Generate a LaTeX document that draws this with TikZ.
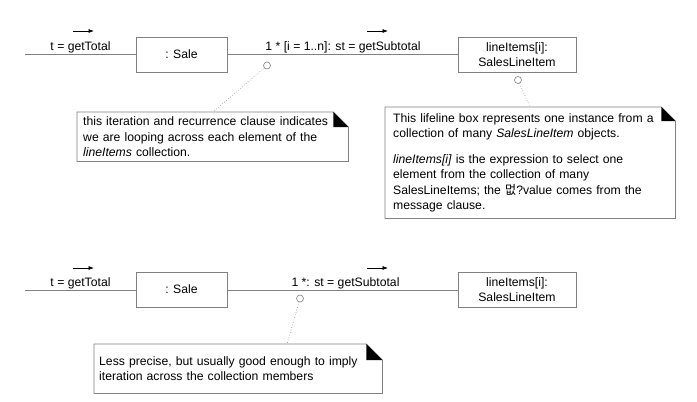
\documentclass[tikz,border=0pt]{standalone}
\usepackage{fontspec}
\setmainfont{Liberation Sans}
\newfontfamily\krfont{Noto Sans CJK KR}
\usetikzlibrary{arrows.meta,calc,backgrounds}
\definecolor{bd}{HTML}{808080}
\tikzset{
  lbl/.style={inner sep=0pt, font=\fontsize{12.2}{15}\selectfont},
  objbox/.style={draw=bd, line width=0.8pt, fill=white, inner sep=0pt, align=center,
    minimum height=35pt, font=\fontsize{12.2}{15}\selectfont},
  link/.style={draw=bd, line width=0.8pt},
  msgarrow/.style={line width=0.6pt, -{Latex[length=5.5pt,width=4pt]}},
  anchorcirc/.style={circle, draw=bd, line width=0.6pt, fill=white, minimum size=7pt, inner sep=0pt},
  anchorline/.style={draw=bd, line width=0.6pt, dotted},
  notebox/.style={inner ysep=0pt, align=left, font=\fontsize{12.2}{15.5}\selectfont, anchor=north west},
  noteedge/.style={draw=bd, line width=0.8pt, fill=white},
}
\newcommand{\notefold}[2]{%
  \begin{scope}[on background layer]
  \path[noteedge] (#1.north west) -- ([xshift=-#2]#1.north east) -- ([yshift=-#2]#1.north east)
    -- (#1.south east) -- (#1.south west) -- cycle;
  \fill[black] ([xshift=-#2]#1.north east) -- ([xshift=-#2,yshift=-#2]#1.north east)
    -- ([yshift=-#2]#1.north east) -- cycle;
  \end{scope}
}
\begin{document}
\begin{tikzpicture}[x=1pt,y=-1pt]
\useasboundingbox (0,0) rectangle (697,402);

% ---------- top diagram ----------
\coordinate (l1) at (25,54);
\node[objbox, minimum width=91pt] (sale1) at (181.5,54.5) {: Sale};
\node[objbox, minimum width=118pt] (li1) at (517,54.5) {lineItems[i]:\\SalesLineItem};
\draw[link] (l1) -- (l1 -| sale1.west);
\draw[link] (sale1.east |- l1) -- (li1.west |- l1);
\node[lbl] (m1) at (80.5,47) {t = getTotal};
\node[lbl] (m2) at (343,47) {1 * [i = 1..n]: st = getSubtotal};
\coordinate (a1s) at (73,31); \coordinate (a1e) at (94,31);
\coordinate (a2s) at (367,31); \coordinate (a2e) at (388,31);
\draw[msgarrow] (a1s) -- (a1e);
\draw[msgarrow] (a2s) -- (a2e);

% note 1
\node[notebox, text width=259pt, inner xsep=6pt, minimum height=49pt] (n1) at (77,112)
  {this iteration and recurrence clause indicates\\we are looping across each element of the\\\textit{lineItems} collection.};
\notefold{n1}{15pt}
\node[anchorcirc] (c1) at (267,65.5) {};
\coordinate (t1) at (213,112);
\draw[anchorline] (c1) -- (t1);

% note 2
\node[notebox, text width=274pt, inner xsep=8pt, minimum height=111pt] (n2) at (385,107)
  {This lifeline box represents one instance from a\\collection of many \textit{SalesLineItem} objects.\\[10pt]\textit{lineItems[i]} is the expression to select one\\element from the collection of many\\SalesLineItems; the {\krfont 멊}?value comes from the\\message clause.};
\notefold{n2}{14pt}
\node[anchorcirc] (c2) at (518,80) {};
\coordinate (t2) at (530,107);
\draw[anchorline] (c2) -- (t2);

% ---------- bottom diagram ----------
\coordinate (l2) at (25,290);
\node[objbox, minimum width=91pt] (sale2) at (181.5,289.5) {: Sale};
\node[objbox, minimum width=118pt] (li2) at (517,289.5) {lineItems[i]:\\SalesLineItem};
\draw[link] (l2) -- (l2 -| sale2.west);
\draw[link] (sale2.east |- l2) -- (li2.west |- l2);
\node[lbl] (m3) at (80.5,283) {t = getTotal};
\node[lbl] (m4) at (345.5,283) {1 *: st = getSubtotal};
\coordinate (a3s) at (73,268); \coordinate (a3e) at (94,268);
\coordinate (a4s) at (367,268); \coordinate (a4e) at (388,268);
\draw[msgarrow] (a3s) -- (a3e);
\draw[msgarrow] (a4s) -- (a4e);

% note 3
\node[notebox, text width=278pt, inner xsep=5pt, minimum height=49pt] (n3) at (94,344)
  {Less precise, but usually good enough to imply\\iteration across the collection members};
\notefold{n3}{16pt}
\node[anchorcirc] (c3) at (300,298.5) {};
\coordinate (t3) at (287,344);
\draw[anchorline] (c3) -- (t3);
\end{tikzpicture}
\end{document}
